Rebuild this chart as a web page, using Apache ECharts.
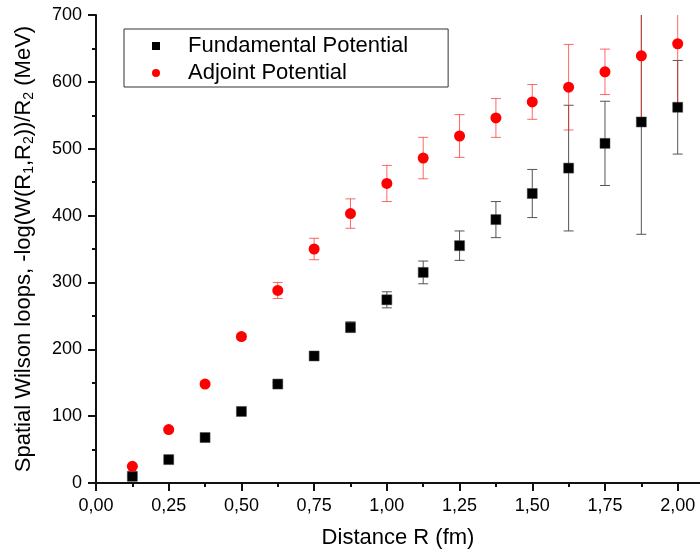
<!DOCTYPE html>
<html><head><meta charset="utf-8">
<script src="https://cdn.jsdelivr.net/npm/echarts@6/dist/echarts.min.js"></script>
<style>html,body{margin:0;padding:0;background:#fff}#c{width:700px;height:557px}</style>
</head><body><div id="c"></div>
<script>
// Distance R (fm)
const distanceR = [0.125, 0.25, 0.375, 0.5, 0.625, 0.75, 0.875, 1.0, 1.125, 1.25, 1.375, 1.5, 1.625, 1.75, 1.875, 2.0];
// Fundamental potential (MeV) and its errors
const fundamentalV   = [10, 35, 68, 107, 148, 190, 233, 274, 315, 355, 394, 433, 471, 508, 540, 562];
const fundamentalErr = [2, 2, 2, 2, 2, 3, 8, 12, 17, 22, 27, 36, 94, 63, 168, 70];
// Adjoint potential (MeV) and its errors
const adjointV   = [25, 80, 148, 219, 288, 350, 403, 448, 486, 519, 546, 570, 592, 615, 639, 657];
const adjointErr = [2, 2, 3, 4, 12, 16, 22, 27, 31, 32, 29, 26, 64, 34, 93, 92];
// tick labels / tick positions
const xTicks = [0, 0.25, 0.5, 0.75, 1.0, 1.25, 1.5, 1.75, 2.0];
const xMinorTicks = [0.125, 0.375, 0.625, 0.875, 1.125, 1.375, 1.625, 1.875];
const yTicks = [0, 100, 200, 300, 400, 500, 600, 700];

const FONT = '"Liberation Sans", Arial, sans-serif';
const chart = echarts.init(document.getElementById('c'));

function errSeries(name, vals, errs, color, z) {
  return {
    type: 'custom', name: name, z: z, clip: true, silent: true,
    data: distanceR.map((r, i) => [r, vals[i] - errs[i], vals[i] + errs[i]]),
    encode: { x: 0, y: [1, 2] },
    renderItem(params, api) {
      const x = api.value(0);
      const lo = api.coord([x, api.value(1)]);
      const hi = api.coord([x, api.value(2)]);
      const hw = 5;
      const st = { stroke: color, lineWidth: 1 };
      return { type: 'group', children: [
        { type: 'line', shape: { x1: lo[0], y1: lo[1], x2: hi[0], y2: hi[1] }, style: st },
        { type: 'line', shape: { x1: lo[0] - hw, y1: lo[1], x2: lo[0] + hw, y2: lo[1] }, style: st },
        { type: 'line', shape: { x1: hi[0] - hw, y1: hi[1], x2: hi[0] + hw, y2: hi[1] }, style: st }
      ]};
    }
  };
}

const axisLineStyle = { color: '#111', width: 2 };
const X_MAX = 2.0767;

chart.setOption({
  animation: false,
  backgroundColor: '#fff',
  textStyle: { fontFamily: FONT },
  grid: { left: 96, right: 0, top: 15, bottom: 74, containLabel: false },
  legend: {
    data: ['Fundamental Potential', 'Adjoint Potential'],
    orient: 'vertical', left: 124, top: 29,
    padding: [6, 40, 3, 28],
    itemWidth: 8, itemHeight: 8, itemGap: 5,
    borderColor: '#333', borderWidth: 1,
    itemStyle: { borderWidth: 0 },
    textStyle: { fontSize: 22, lineHeight: 22, color: '#000', fontFamily: FONT, padding: [0, 0, 0, 23] },
    selectedMode: false
  },
  xAxis: [{
    type: 'value', min: 0, max: X_MAX, interval: 0.25, position: 'bottom',
    name: 'Distance R (fm)', nameLocation: 'middle', nameGap: 44,
    nameTextStyle: { fontSize: 22, color: '#000', fontFamily: FONT },
    axisLine: { show: true, onZero: false, lineStyle: axisLineStyle },
    axisTick: { show: true, length: 8, inside: false, lineStyle: { color: '#111', width: 2 }, customValues: xTicks },
    axisLabel: { fontSize: 18, color: '#000', margin: 14, fontFamily: FONT, customValues: xTicks,
      formatter: v => v.toFixed(2).replace('.', ',') },
    splitLine: { show: false }
  }, {
    type: 'value', min: 0, max: X_MAX, interval: 0.25, position: 'bottom', offset: 0,
    axisLine: { show: false, onZero: false },
    axisTick: { show: true, length: 4, inside: false, lineStyle: { color: '#111', width: 2 }, customValues: xMinorTicks },
    axisLabel: { show: false },
    splitLine: { show: false }
  }],
  yAxis: {
    type: 'value', min: 0, max: 700, interval: 100,
    name: 'Spatial Wilson loops, -log(W(R{s|1},R{s|2}))/R{s|2} (MeV)',
    nameLocation: 'middle', nameGap: 60, nameRotate: 90,
    nameTextStyle: { fontSize: 22, color: '#000', fontFamily: FONT,
      rich: { s: { fontSize: 14, color: '#000', fontFamily: FONT, padding: [10, 0, 0, 0] } } },
    axisLine: { show: true, onZero: false, lineStyle: axisLineStyle },
    axisTick: { show: true, length: 8, inside: false, lineStyle: { color: '#111', width: 2 }, customValues: yTicks },
    minorTick: { show: true, splitNumber: 2, length: 4, lineStyle: { color: '#111', width: 2 } },
    axisLabel: { fontSize: 18, color: '#000', margin: 14, fontFamily: FONT, customValues: yTicks },
    splitLine: { show: false }
  },
  series: [
    errSeries('fundErr', fundamentalV, fundamentalErr, '#555', 1),
    errSeries('adjErr', adjointV, adjointErr, 'rgba(255,40,40,0.7)', 1),
    {
      type: 'scatter', name: 'Fundamental Potential', z: 3,
      symbol: 'rect', symbolSize: 10,
      itemStyle: { color: '#000', borderColor: '#444', borderWidth: 0.5, opacity: 1 },
      data: distanceR.map((r, i) => [r, fundamentalV[i]])
    },
    {
      type: 'scatter', name: 'Adjoint Potential', z: 4,
      symbol: 'circle', symbolSize: 11,
      itemStyle: { color: '#ff0000', opacity: 1 },
      data: distanceR.map((r, i) => [r, adjointV[i]])
    }
  ]
});
</script>
</body></html>
